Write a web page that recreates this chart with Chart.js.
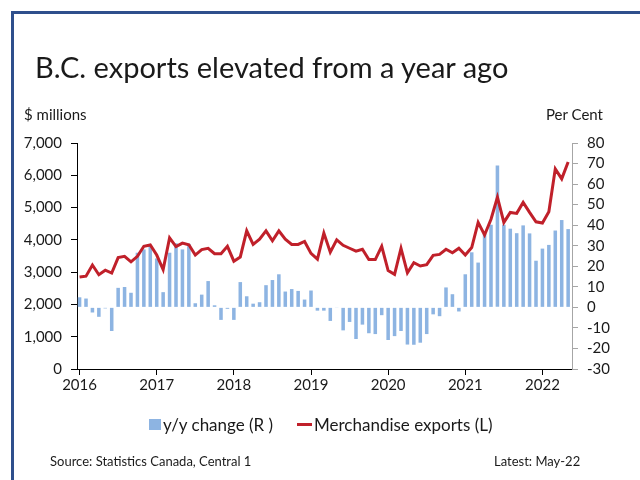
<!DOCTYPE html>
<html>
<head>
<meta charset="utf-8">
<script src="https://cdn.jsdelivr.net/npm/chart.js@4.4.1/dist/chart.umd.min.js"></script>
<style>
  html, body { margin:0; padding:0; background:#fff; }
  #wrap { position:relative; width:640px; height:480px; overflow:hidden; font-family: Lato, sans-serif; color:#1a1a1a; }
  #frame { position:absolute; left:11px; top:11px; width:640px; height:480px; border-left:3px solid #2f4f8c; border-top:3px solid #2f4f8c; box-sizing:border-box; }
  canvas { position:absolute; left:0; top:0; }
  .t { position:absolute; white-space:nowrap; line-height:1; }
  #title { left:35px; top:52px; font-size:29px; }
  #lunit { left:24px; top:107px; font-size:15px; }
  #runit { left:546px; top:107px; font-size:15px; }
  #sq { position:absolute; left:149px; top:419px; width:12px; height:11px; background:#8db4e2; }
  #lg1 { left:163px; top:416px; font-size:17px; }
  #ln { position:absolute; left:297px; top:423px; width:15px; height:3px; background:#c0202a; }
  #lg2 { left:314px; top:416px; font-size:17px; }
  #src { left:50px; top:455px; font-size:13px; }
  #latest { left:494px; top:455px; font-size:13px; }
</style>
</head>
<body>
<div id="wrap">
  <div id="frame"></div>
  <canvas id="c" width="640" height="480"></canvas>
  <div class="t" id="title">B.C. exports elevated from a year ago</div>
  <div class="t" id="lunit">$ millions</div>
  <div class="t" id="runit">Per Cent</div>
  <div id="sq"></div><div class="t" id="lg1">y/y change (R )</div>
  <div id="ln"></div><div class="t" id="lg2">Merchandise exports (L)</div>
  <div class="t" id="src">Source: Statistics Canada, Central 1</div>
  <div class="t" id="latest">Latest: May-22</div>
</div>
<script>
// Months Jan-2016 .. May-2022 (index 0..76)
const startYear = 2016;
const yearTicks = [2016, 2017, 2018, 2019, 2020, 2021, 2022];

// Merchandise exports, $ millions (left axis)
const exportsL = [
  2850, 2875, 3220, 2920, 3060, 2970, 3450, 3490, 3320, 3490, 3800, 3840,
  3530, 3080, 4060, 3790, 3900, 3850, 3530, 3700, 3740, 3570, 3570, 3800,
  3340, 3470, 4280, 3860, 4020, 4280, 3970, 4280, 4020, 3860, 3860, 3950,
  3580, 3400, 4210, 3620, 4000, 3830, 3740, 3650, 3710, 3390, 3390, 3800,
  3050, 2930, 3740, 2980, 3290, 3190, 3230, 3520, 3550, 3710, 3600, 3740,
  3530, 3760, 4540, 4150, 4640, 5320, 4540, 4850, 4820, 5160, 4850, 4560,
  4520, 4870, 6200, 5890, 6410
];

// y/y change, per cent (right axis)
const yoyR = [
  4.9, 4.3, -2.5, -4.6, -0.5, -11.5, 9.5, 9.9, 7.1, 26.6, 28.2, 30.2,
  23.8, 7.4, 26.6, 31.2, 28.2, 30.9, 2.0, 6.2, 12.8, 1.0, -6.1, -0.7,
  -6.1, 12.3, 5.4, 1.8, 2.5, 10.8, 13.3, 16.1, 7.7, 8.9, 8.0, 3.8,
  8.2, -1.6, -1.6, -6.6, -0.3, -11.2, -7.1, -15.4, -8.4, -12.6, -13.0, -3.8,
  -15.9, -14.0, -11.5, -18.1, -18.2, -17.2, -13.0, -3.4, -4.3, 9.7, 6.4, -2.0,
  16.1, 26.8, 21.8, 35.8, 40.2, 69.0, 40.2, 38.3, 36.1, 39.9, 36.0, 22.7,
  28.6, 30.4, 37.4, 42.5, 38.1
];

const lineData = exportsL.map((v, i) => ({x: i, y: v}));
const barData = yoyR.map((v, i) => ({x: i, y: v}));

Chart.defaults.font.family = 'Lato, sans-serif';
Chart.defaults.font.size = 15;
Chart.defaults.color = '#1a1a1a';

new Chart(document.getElementById('c'), {
  type: 'bar',
  data: {
    datasets: [
      {
        type: 'line', label: 'Merchandise exports (L)', data: lineData, yAxisID: 'yL', xAxisID: 'x',
        borderColor: '#c0202a', borderWidth: 3, pointRadius: 0, tension: 0, order: 0
      },
      {
        type: 'bar', label: 'y/y change (R )', data: barData, yAxisID: 'yR', xAxisID: 'x',
        backgroundColor: '#8db4e2', categoryPercentage: 1, barPercentage: 0.55, order: 1
      }
    ]
  },
  options: {
    responsive: false, animation: false,
    layout: { padding: { top: 143, left: 0, right: 0, bottom: 0 } },
    plugins: { legend: { display: false }, title: { display: false }, tooltip: { enabled: false } },
    scales: {
      x: {
        type: 'linear', min: -0.4, max: 76.6, offset: false,
        afterBuildTicks: (s) => { s.ticks = yearTicks.map(y => ({ value: (y - startYear) * 12 })); },
        ticks: { callback: (v) => String(startYear + Math.round(v / 12)), maxRotation: 0, padding: 1, autoSkip: false },
        grid: { offset: false, drawOnChartArea: false, drawTicks: true, tickLength: 6, color: '#000', tickWidth: 1 },
        border: { color: '#000', width: 1 },
        afterFit: (s) => { s.height = 111; }
      },
      yL: {
        position: 'left', min: 0, max: 7000,
        ticks: { stepSize: 1000, padding: 9, autoSkip: false, callback: (v) => v.toLocaleString('en-US') },
        grid: { drawOnChartArea: false, drawTicks: true, tickLength: 6, color: '#000' },
        border: { color: '#000', width: 1 },
        afterFit: (s) => { s.width = 77; }
      },
      yR: {
        position: 'right', min: -30, max: 80,
        ticks: { stepSize: 10, padding: 9, autoSkip: false },
        grid: { drawOnChartArea: false, drawTicks: true, tickLength: 6, color: '#a6a6a6' },
        border: { color: '#a6a6a6', width: 1 },
        afterFit: (s) => { s.width = 68; }
      }
    }
  }
});
</script>
</body>
</html>
